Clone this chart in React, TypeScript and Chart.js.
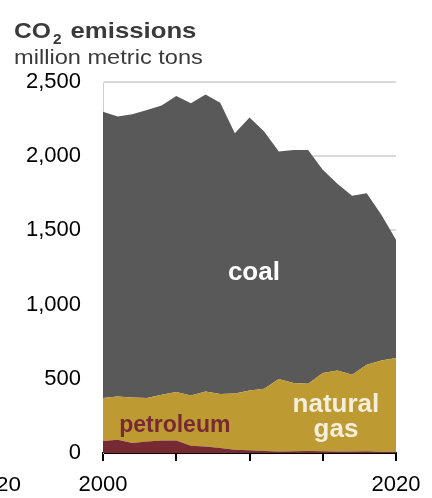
import React, { useEffect, useRef } from "react";
import { Chart, registerables } from "chart.js";

Chart.register(...registerables);

const years = [2000, 2001, 2002, 2003, 2004, 2005, 2006, 2007, 2008, 2009, 2010, 2011, 2012, 2013, 2014, 2015, 2016, 2017, 2018, 2019, 2020];
const petroleum = [81, 90, 67, 78, 85, 85, 49, 44, 34, 22, 18, 14, 10, 12, 14, 12, 10, 10, 11, 8, 8];
const naturalGas = [289, 291, 307, 292, 308, 326, 339, 371, 363, 379, 404, 419, 488, 459, 453, 527, 546, 517, 584, 616, 632];
const coal = [1930, 1886, 1909, 1942, 1948, 1995, 1969, 2000, 1964, 1754, 1838, 1733, 1533, 1571, 1575, 1369, 1258, 1207, 1156, 981, 797];
const yTicks = [0, 500, 1000, 1500, 2000, 2500];
const xLabelYears = [2000, 2020];

const FONT = "'Liberation Sans', Arial, sans-serif";

function stretchText(ctx: any, text: string, x: number, y: number, font: string, sx: number, align: string) {
  ctx.save();
  ctx.font = font;
  ctx.textAlign = align;
  const w = ctx.measureText(text).width * sx;
  ctx.translate(x, y);
  ctx.scale(sx, 1);
  ctx.fillText(text, 0, 0);
  ctx.restore();
  return w;
}

const labelPlugin = {
  id: "labels",
  afterDraw(chart: any) {
    const ctx = chart.ctx;
    const xs = chart.scales.x;
    const ys = chart.scales.y;
    ctx.save();
    ctx.textBaseline = "alphabetic";
    // title
    ctx.fillStyle = "#3a3a3a";
    const wCO = stretchText(ctx, "CO", 14, 38, `bold 22px ${FONT}`, 1.12, "left");
    const w2 = stretchText(ctx, "2", 14 + wCO + 2, 44, `bold 14px ${FONT}`, 1.1, "left");
    stretchText(ctx, "emissions", 14 + wCO + 2 + w2 + 9, 38, `bold 22px ${FONT}`, 1.17, "left");
    stretchText(ctx, "million metric tons", 14, 64, `20px ${FONT}`, 1.18, "left");

    // clipped label from neighbouring panel
    ctx.fillStyle = "#000000";
    stretchText(ctx, "2020", -4, 491, `20px ${FONT}`, 1.12, "center");

    // series labels
    ctx.textAlign = "center";
    ctx.font = `bold 26px ${FONT}`;
    ctx.fillStyle = "#ffffff";
    ctx.fillText("coal", xs.getPixelForValue(2010.3), ys.getPixelForValue(1167));
    ctx.fillStyle = "#f3efdc";
    ctx.fillText("natural", xs.getPixelForValue(2015.9), ys.getPixelForValue(278));
    ctx.fillText("gas", xs.getPixelForValue(2015.9), ys.getPixelForValue(110));
    ctx.font = `bold 23px ${FONT}`;
    ctx.fillStyle = "#772a32";
    ctx.fillText("petroleum", xs.getPixelForValue(2004.9), ys.getPixelForValue(143));
    ctx.restore();
  },
};

export default function App() {
  const ref = useRef<HTMLCanvasElement>(null);
  useEffect(() => {
    if (!ref.current) return;
    const mk = (arr: number[]) => years.map((yr, i) => ({ x: yr, y: arr[i] }));
    const chart = new Chart(ref.current, {
      type: "line",
      data: {
        datasets: [
          { label: "petroleum", data: mk(petroleum), backgroundColor: "#772a32", borderWidth: 0, pointRadius: 0, fill: "origin", tension: 0 },
          { label: "natural gas", data: mk(naturalGas), backgroundColor: "#be9a33", borderWidth: 0, pointRadius: 0, fill: "-1", tension: 0 },
          { label: "coal", data: mk(coal), backgroundColor: "#595959", borderWidth: 0, pointRadius: 0, fill: "-1", tension: 0 },
        ],
      },
      options: {
        animation: false,
        responsive: false,
        layout: { padding: { left: 0, right: 36, top: 82, bottom: 0 } },
        plugins: { legend: { display: false }, tooltip: { enabled: false } },
        scales: {
          x: {
            type: "linear",
            min: 2000,
            max: 2020,
            z: 1,
            afterFit: (s: any) => { s.height = 45; },
            ticks: {
              stepSize: 5,
              autoSkip: false,
              maxRotation: 0,
              color: "#000000",
              font: { family: FONT, size: 22 },
              padding: 11,
              callback: (v: any) => (xLabelYears.includes(Number(v)) ? String(v) : ""),
            },
            grid: { drawOnChartArea: false, color: "#000000", lineWidth: 2, tickLength: 8 },
            border: { color: "#000000", width: 2 },
          },
          y: {
            stacked: true,
            min: 0,
            max: 2500,
            afterFit: (s: any) => { s.width = 103; },
            afterBuildTicks: (s: any) => { s.ticks = yTicks.map((v) => ({ value: v })); },
            ticks: {
              color: "#000000",
              font: { family: FONT, size: 22 },
              padding: 22,
              callback: (v: any) => Number(v).toLocaleString("en-US"),
            },
            grid: { color: "#d9d9d9", lineWidth: 2, drawTicks: false },
            border: { color: "#d0d0d0", width: 1 },
          },
        },
      },
      plugins: [labelPlugin],
    });
    return () => chart.destroy();
  }, []);
  return (
    <div style={{ position: "fixed", left: 0, top: 0, width: 432, height: 498, background: "#fff" }}>
      <canvas ref={ref} width={432} height={498} />
    </div>
  );
}
